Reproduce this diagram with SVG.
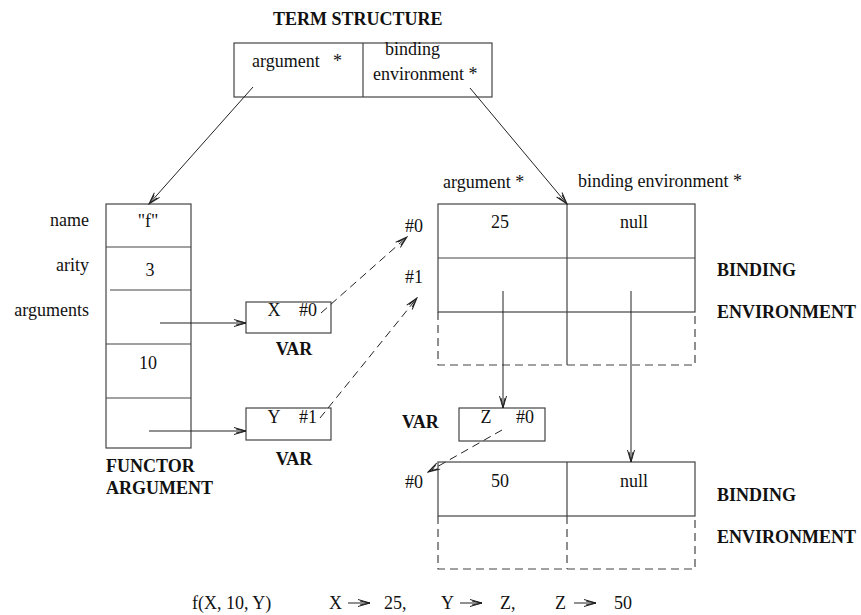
<svg xmlns="http://www.w3.org/2000/svg" width="861" height="615" viewBox="0 0 861 615">
<defs>
<marker id="ah" markerUnits="userSpaceOnUse" markerWidth="14" markerHeight="10" viewBox="0 0 14 10" refX="13" refY="5" orient="auto">
<path d="M1,1.5 L13,5 L1,8.5 M3,3 L13,5 L3,7" fill="none" stroke="#222" stroke-width="1" stroke-dasharray="none"/>
</marker>
<style>
text{font-family:"Liberation Serif","Times New Roman",serif;font-size:18px;fill:#111}
.b{font-weight:bold}
.m{text-anchor:middle}
.e{text-anchor:end}
.box{fill:none;stroke:#444;stroke-width:1.2}
.dash{fill:none;stroke:#444;stroke-width:1.2;stroke-dasharray:8 5}
.c{fill:none;stroke:#222;stroke-width:1}
.cd{fill:none;stroke:#222;stroke-width:1;stroke-dasharray:8 5}
</style>
</defs>
<rect width="861" height="615" fill="#fff"/>

<g id="term-structure">
<text class="b" x="273" y="25">TERM STRUCTURE</text>
<rect class="box" x="234" y="43" width="258" height="54"/>
<line class="box" x1="363" y1="43" x2="363" y2="97"/>
<text x="252" y="67">argument</text>
<text x="333" y="67">*</text>
<text x="385" y="55">binding</text>
<text x="373" y="80">environment *</text>
</g>

<g id="functor-argument">
<rect class="box" x="106" y="204" width="85" height="244"/>
<line class="box" x1="106" y1="247" x2="191" y2="247"/>
<line class="box" x1="110" y1="290" x2="191" y2="290"/>
<line class="box" x1="106" y1="344" x2="191" y2="344"/>
<line class="box" x1="106" y1="398" x2="191" y2="398"/>
<text class="e" x="89" y="226">name</text>
<text class="e" x="89" y="271">arity</text>
<text class="e" x="89" y="316">arguments</text>
<text class="m" x="148" y="227">"f"</text>
<text class="m" x="150" y="276">3</text>
<text class="m" x="148" y="369">10</text>
<text class="b" x="106" y="472">FUNCTOR</text>
<text class="b" x="106" y="494">ARGUMENT</text>
</g>

<g id="var-x">
<rect class="box" x="246" y="302" width="85" height="31"/>
<text class="m" x="274" y="316">X</text>
<text x="299" y="316">#0</text>
<text class="b m" x="294" y="355">VAR</text>
</g>

<g id="var-y">
<rect class="box" x="246" y="408" width="85" height="32"/>
<text class="m" x="274" y="423">Y</text>
<text x="299" y="423">#1</text>
<text class="b m" x="294" y="465">VAR</text>
</g>

<g id="var-z">
<rect class="box" x="459" y="408" width="86" height="33"/>
<text class="m" x="486" y="423">Z</text>
<text x="516" y="423">#0</text>
<text class="b" x="402" y="428">VAR</text>
</g>

<g id="binding-env-1">
<text x="443" y="188">argument *</text>
<text x="578" y="187">binding environment *</text>
<rect class="box" x="438" y="204" width="257" height="108"/>
<line class="box" x1="438" y1="258" x2="695" y2="258"/>
<line class="box" x1="567" y1="204" x2="567" y2="365"/>
<path class="dash" d="M438,312 V365 H695 V312"/>
<text x="405" y="232">#0</text>
<text x="405" y="283">#1</text>
<text class="m" x="500" y="228">25</text>
<text class="m" x="634" y="228">null</text>
<text class="b" x="717" y="276">BINDING</text>
<text class="b" x="717" y="318">ENVIRONMENT</text>
</g>

<g id="binding-env-2">
<rect class="box" x="438" y="462" width="257" height="54"/>
<line class="box" x1="567" y1="462" x2="567" y2="516"/>
<path class="dash" d="M438,516 V569 H695 V516 M567,516 V569"/>
<text x="405" y="488">#0</text>
<text class="m" x="500" y="487">50</text>
<text class="m" x="634" y="487">null</text>
<text class="b" x="717" y="501">BINDING</text>
<text class="b" x="717" y="543">ENVIRONMENT</text>
</g>

<g id="connectors">
<line class="c" x1="253" y1="87" x2="149" y2="204" marker-end="url(#ah)"/>
<line class="c" x1="470" y1="88" x2="567" y2="204" marker-end="url(#ah)"/>
<line class="c" x1="160" y1="323" x2="246" y2="323" marker-end="url(#ah)"/>
<line class="c" x1="149" y1="431" x2="246" y2="431" marker-end="url(#ah)"/>
<line class="cd" x1="321" y1="313" x2="407" y2="237" marker-end="url(#ah)"/>
<line class="cd" x1="320" y1="418" x2="417" y2="298" marker-end="url(#ah)"/>
<line class="c" x1="503" y1="291" x2="503" y2="408" marker-end="url(#ah)"/>
<line class="c" x1="631" y1="291" x2="631" y2="462" marker-end="url(#ah)"/>
<line class="cd" x1="502" y1="430" x2="428" y2="472" marker-end="url(#ah)"/>
</g>

<g id="formula">
<text x="192" y="609">f(X, 10, Y)</text>
<text x="329" y="609">X</text>
<line class="c" x1="348" y1="603" x2="370" y2="603" marker-end="url(#ah)"/>
<text x="384" y="609">25,</text>
<text x="441" y="609">Y</text>
<line class="c" x1="460" y1="603" x2="482" y2="603" marker-end="url(#ah)"/>
<text x="500" y="609">Z,</text>
<text x="555" y="609">Z</text>
<line class="c" x1="574" y1="603" x2="596" y2="603" marker-end="url(#ah)"/>
<text x="614" y="609">50</text>
</g>
</svg>
